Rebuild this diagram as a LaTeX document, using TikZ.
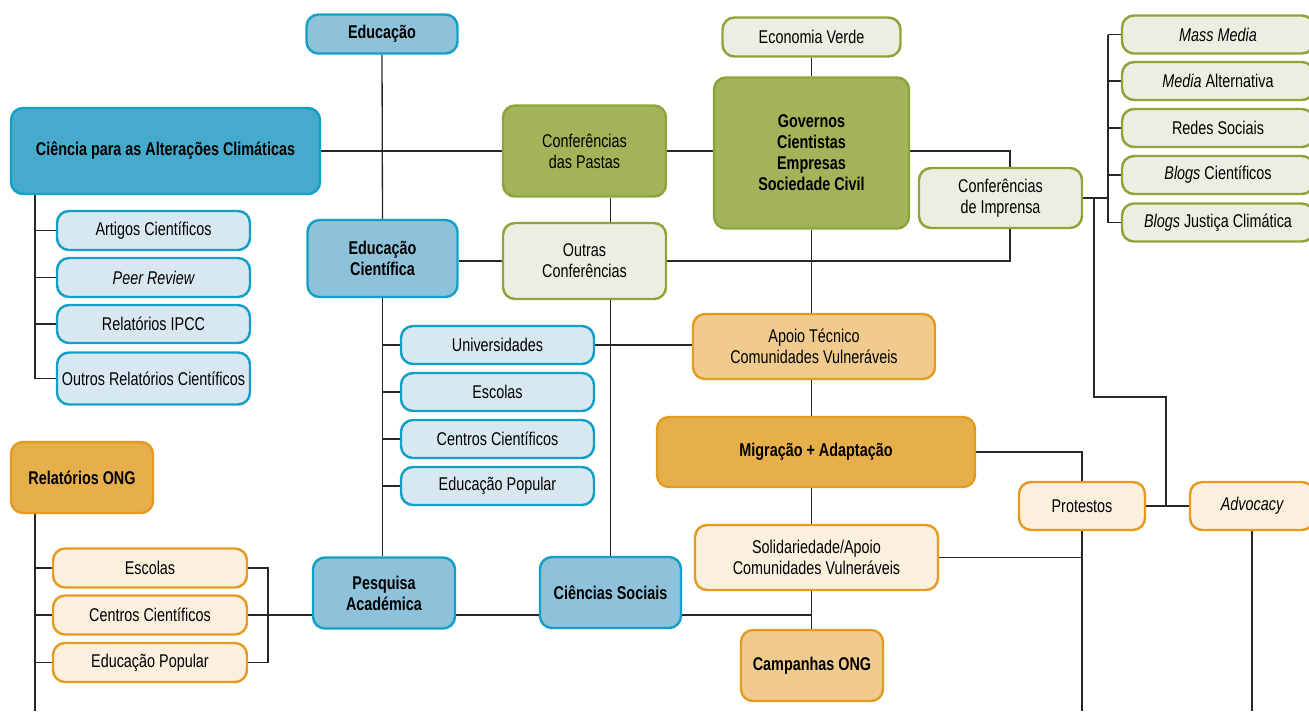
\documentclass[tikz,border=0pt]{standalone}
\usepackage{fontspec}
\setmainfont{Liberation Sans}[FakeStretch=0.78]
\usetikzlibrary{backgrounds}

\definecolor{azulbd}{RGB}{20,160,198}
\definecolor{azulesc}{RGB}{70,170,204}
\definecolor{azulmed}{RGB}{141,194,218}
\definecolor{azulcl}{RGB}{216,232,241}
\definecolor{verdebd}{RGB}{141,164,58}
\definecolor{verdeesc}{RGB}{163,179,90}
\definecolor{verdecl}{RGB}{236,238,225}
\definecolor{larbd}{RGB}{228,155,36}
\definecolor{laresc}{RGB}{230,175,76}
\definecolor{larmed}{RGB}{240,203,141}
\definecolor{larcl}{RGB}{251,239,221}

\begin{document}
\begin{tikzpicture}[x=0.02cm, y=-0.02cm,
    caixa/.style={rounded corners=0.24cm, line width=1.4pt, align=center, inner sep=1pt,
                  font=\fontsize{10.5}{12}\selectfont},
    tam/.style 2 args={minimum width=#1*0.02cm, minimum height=#2*0.02cm},
    cazulesc/.style={caixa, draw=azulbd, fill=azulesc, font=\fontsize{10.5}{12}\selectfont\bfseries},
    cazulmed/.style={caixa, draw=azulbd, fill=azulmed, font=\fontsize{10.5}{12}\selectfont\bfseries},
    cazulcl/.style={caixa, draw=azulbd, fill=azulcl},
    cverdeesc/.style={caixa, draw=verdebd, fill=verdeesc},
    cverdecl/.style={caixa, draw=verdebd, fill=verdecl},
    claresc/.style={caixa, draw=larbd, fill=laresc, font=\fontsize{10.5}{12}\selectfont\bfseries},
    clarmed/.style={caixa, draw=larbd, fill=larmed},
    clarcl/.style={caixa, draw=larbd, fill=larcl},
    liga/.style={line width=0.75pt, draw=black!85}]
    \useasboundingbox (0,0) rectangle (1309,711);

    % Ciencia e educacao
    \node[cazulmed, tam={151}{39}] (edu) at (382,34) {Educação};
    \node[cazulesc, tam={309}{86}] (cienc) at (165.5,151) {Ciência para as Alterações Climáticas};
    \node[cazulcl, tam={193}{39}] (art) at (153.5,230.5) {Artigos Científicos};
    \node[cazulcl, tam={193}{39}] (peer) at (153.5,277.5) {\itshape Peer Review};
    \node[cazulcl, tam={193}{38}] (ipcc) at (153.5,324) {Relatórios IPCC};
    \node[cazulcl, tam={193}{52}] (outros) at (153.5,378.5) {Outros Relatórios Científicos};
    \node[cazulmed, tam={150}{77}] (educc) at (382.5,258.5) {Educação\\Científica};
    \node[cazulcl, tam={193}{38}] (univ) at (497.5,345) {Universidades};
    \node[cazulcl, tam={193}{38}] (esc) at (497.5,392) {Escolas};
    \node[cazulcl, tam={193}{38}] (centros) at (497.5,439) {Centros Científicos};
    \node[cazulcl, tam={193}{38}] (edpop) at (497.5,486) {Educação Popular};
    \node[cazulmed, tam={142}{71}] (pesq) at (384,593) {Pesquisa\\Académica};
    \node[cazulmed, tam={141}{71}] (csoc) at (610.5,592.5) {Ciências Sociais};

    % Governos e conferencias
    \node[cverdeesc, tam={163}{91}] (confp) at (584.5,151) {Conferências\\das Pastas};
    \node[cverdeesc, tam={195}{151}, font=\fontsize{10.5}{12}\selectfont\bfseries] (gov) at (811.5,153)
        {Governos\\Cientistas\\Empresas\\Sociedade Civil};
    \node[cverdecl, tam={178}{39}] (econ) at (811.5,37) {Economia Verde};
    \node[cverdecl, tam={163}{76}] (outras) at (584.5,261) {Outras\\Conferências};
    \node[cverdecl, tam={163}{60}] (confi) at (1000.5,198) {Conferências\\de Imprensa};
    \node[cverdecl, tam={192}{38}] (mass) at (1218,34.5) {\itshape Mass Media};
    \node[cverdecl, tam={192}{38}] (medalt) at (1218,81) {\itshape Media\upshape{} Alternativa};
    \node[cverdecl, tam={192}{38}] (redes) at (1218,128) {Redes Sociais};
    \node[cverdecl, tam={192}{38}] (blogc) at (1218,175) {\itshape Blogs\upshape{} Científicos};
    \node[cverdecl, tam={192}{38}] (blogj) at (1218,222.5) {\itshape Blogs\upshape{} Justiça Climática};

    % ONG
    \node[clarmed, tam={242}{65}] (apoio) at (814,346.5) {Apoio Técnico\\Comunidades Vulneráveis};
    \node[claresc, tam={318}{70}] (migr) at (816,452) {Migração + Adaptação};
    \node[clarcl, tam={243}{65}] (solid) at (816.5,557.5) {Solidariedade/Apoio\\Comunidades Vulneráveis};
    \node[clarmed, tam={142}{71}, font=\fontsize{10.5}{12}\selectfont\bfseries] (camp) at (812,665.5) {Campanhas ONG};
    \node[clarcl, tam={126}{48}] (prot) at (1082,506) {Protestos};
    \node[clarcl, tam={124}{48}] (advo) at (1252,506) {\itshape Advocacy};
    \node[claresc, tam={142}{71}] (rong) at (82,477.5) {Relatórios ONG};
    \node[clarcl, tam={194}{39}] (oesc) at (150,568) {Escolas};
    \node[clarcl, tam={194}{39}] (ocent) at (150,615) {Centros Científicos};
    \node[clarcl, tam={194}{39}] (opop) at (150,662.5) {Educação Popular};

    \coordinate (tronco) at (35,711);
    \coordinate (brk) at (268,615);
    \coordinate (jn) at (1094,397);
    \coordinate (pa) at (1166,506);
    \coordinate (mtr) at (1108,0);
    \coordinate (pbot) at (1082,711);
    \coordinate (abot) at (1252,711);

    \begin{pgfonlayer}{background}
    % ramos esquerdos
    \draw[liga] (cienc.south -| tronco) |- (outros.west);
    \foreach \n in {art,peer,ipcc}
        \draw[liga] (tronco |- \n) -- (\n.west);
    \draw[liga] (rong.south -| tronco) -- (tronco);
    \foreach \n in {oesc,ocent,opop}
        \draw[liga] (tronco |- \n) -- (\n.west);
    \draw[liga] (oesc.east) -| (brk) |- (opop.east);
    \draw[liga] (ocent.east) -- (ocent.east -| gov.south);

    % educacao
    \draw[liga] (edu.south) -- (educc.north);
    \draw[liga] (educc.south) -- (educc.south |- pesq.north);
    \foreach \n in {univ,esc,centros,edpop}
        \draw[liga] (educc.south |- \n) -- (\n.west);
    \draw[liga] (cienc.east) -- (confp.west);
    \draw[liga] (confp.east) -- (confp.east -| gov.west);
    \draw[liga] (educc.east |- outras) -- (outras.west);
    \draw[liga] (confp.south -| csoc) -- (outras.north -| csoc);
    \draw[liga] (outras.south -| csoc) -- (csoc.north);
    \draw[liga] (univ.east) -- (univ.east -| apoio.west);

    % governos
    \draw[liga] (econ) -- (gov);
    \draw[liga] (gov.south) -- (camp.north -| gov.south);
    \draw[liga] (gov.east |- confp) -| ([xshift=0.19cm]confi.north);
    \draw[liga] (outras.east) -| ([xshift=0.19cm]confi.south);
    \draw[liga] (confi.east) -- (confi.east -| mtr);
    \draw[liga] (mtr |- mass) -- (mtr |- blogj);
    \foreach \n in {mass,medalt,redes,blogc,blogj}
        \draw[liga] (mtr |- \n) -- (\n.west);
    \draw[liga] (confi.east -| jn) -- (jn) -| (pa);

    % protestos e advocacy
    \draw[liga] (migr.east) -| (prot.north);
    \draw[liga] (solid.east) -- (solid.east -| pbot);
    \draw[liga] (prot.south) -- (pbot);
    \draw[liga] (prot.east) -- (advo.west);
    \draw[liga] (advo.south) -- (abot);
    \end{pgfonlayer}
\end{tikzpicture}
\end{document}
